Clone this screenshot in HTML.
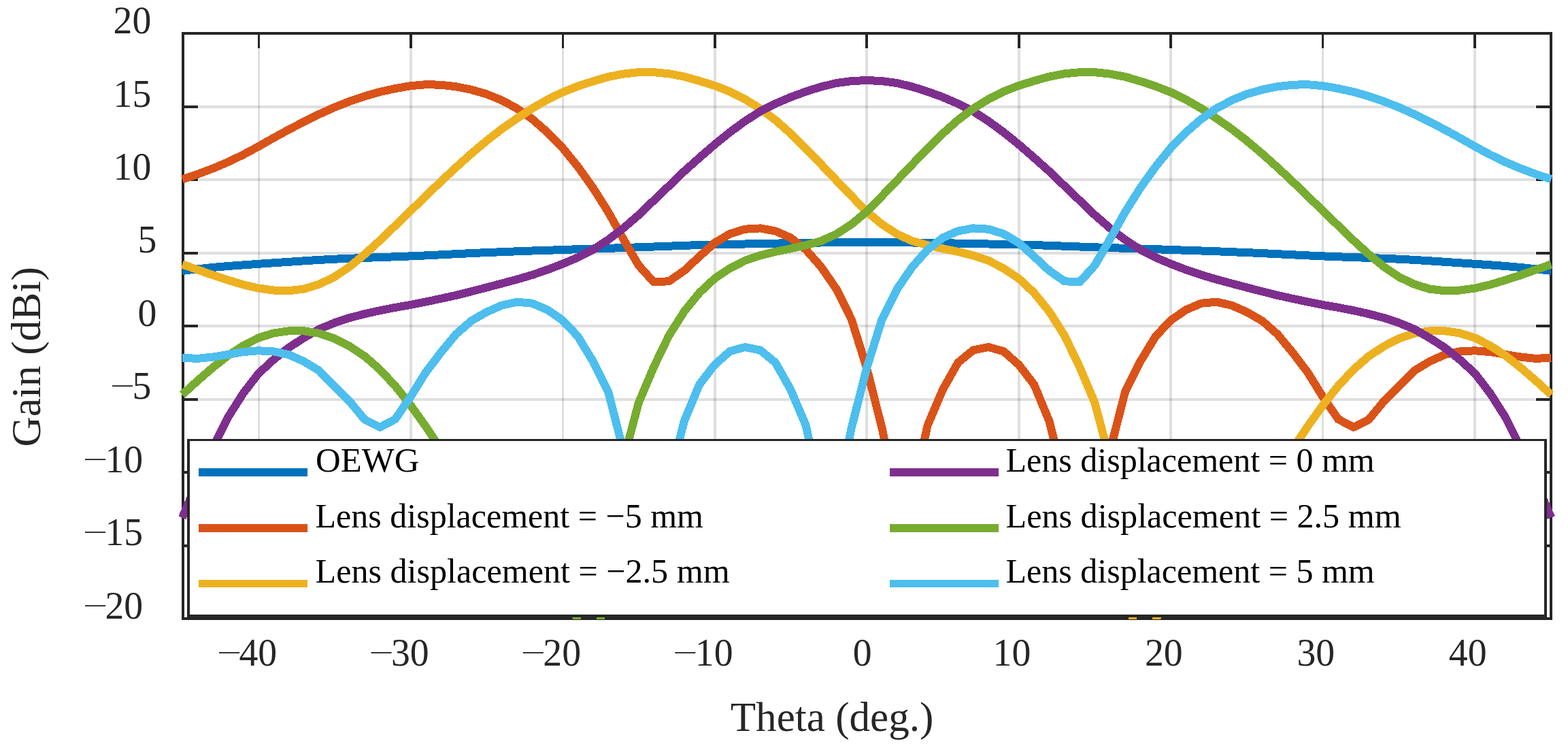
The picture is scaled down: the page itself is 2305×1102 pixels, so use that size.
<!DOCTYPE html>
<html lang="en"><head><meta charset="utf-8"><title>Gain vs Theta</title>
<style>html,body{margin:0;padding:0;background:#fff;}body{width:2305px;height:1102px;overflow:hidden;}svg{display:block;}text{font-family:"Liberation Serif","Times New Roman",serif;font-kerning:none;white-space:pre;}</style>
</head><body>
<svg width="2305" height="1102" viewBox="0 0 2305 1102">
<rect x="0" y="0" width="2305" height="1102" fill="#fff"/>
<g fill="#262626" fill-opacity="0.15" shape-rendering="crispEdges">
<rect x="379" y="72" width="3" height="814"/>
<rect x="602" y="72" width="4" height="814"/>
<rect x="826" y="72" width="3" height="814"/>
<rect x="1049" y="72" width="4" height="814"/>
<rect x="1272" y="72" width="4" height="814"/>
<rect x="1496" y="72" width="4" height="814"/>
<rect x="1719" y="72" width="4" height="814"/>
<rect x="1943" y="72" width="3" height="814"/>
<rect x="2166" y="72" width="4" height="814"/>
<rect x="292" y="800" width="1965" height="4"/>
<rect x="292" y="692" width="1965" height="4"/>
<rect x="292" y="585" width="1965" height="4"/>
<rect x="292" y="477" width="1965" height="4"/>
<rect x="292" y="370" width="1965" height="4"/>
<rect x="292" y="262" width="1965" height="4"/>
<rect x="292" y="155" width="1965" height="4"/>
</g>
<g fill="#262626" shape-rendering="crispEdges">
<rect x="379" y="50" width="3" height="21"/>
<rect x="379" y="887" width="3" height="21"/>
<rect x="602" y="50" width="4" height="21"/>
<rect x="602" y="887" width="4" height="21"/>
<rect x="826" y="50" width="3" height="21"/>
<rect x="826" y="887" width="3" height="21"/>
<rect x="1049" y="50" width="4" height="21"/>
<rect x="1049" y="887" width="4" height="21"/>
<rect x="1272" y="50" width="4" height="21"/>
<rect x="1272" y="887" width="4" height="21"/>
<rect x="1496" y="50" width="4" height="21"/>
<rect x="1496" y="887" width="4" height="21"/>
<rect x="1719" y="50" width="4" height="21"/>
<rect x="1719" y="887" width="4" height="21"/>
<rect x="1943" y="50" width="3" height="21"/>
<rect x="1943" y="887" width="3" height="21"/>
<rect x="2166" y="50" width="4" height="21"/>
<rect x="2166" y="887" width="4" height="21"/>
<rect x="270" y="800" width="21" height="4"/>
<rect x="2258" y="800" width="21" height="4"/>
<rect x="270" y="692" width="21" height="4"/>
<rect x="2258" y="692" width="21" height="4"/>
<rect x="270" y="585" width="21" height="4"/>
<rect x="2258" y="585" width="21" height="4"/>
<rect x="270" y="477" width="21" height="4"/>
<rect x="2258" y="477" width="21" height="4"/>
<rect x="270" y="370" width="21" height="4"/>
<rect x="2258" y="370" width="21" height="4"/>
<rect x="270" y="262" width="21" height="4"/>
<rect x="2258" y="262" width="21" height="4"/>
<rect x="270" y="155" width="21" height="4"/>
<rect x="2258" y="155" width="21" height="4"/>
</g>
<rect x="269" y="49" width="2011" height="860" fill="none" stroke="#262626" stroke-width="4"/>
<defs><clipPath id="c"><rect x="255" y="30" width="2040" height="880"/></clipPath></defs>
<g clip-path="url(#c)" fill="none" stroke-width="12.0" stroke-linejoin="round" stroke-linecap="butt" shape-rendering="crispEdges">
<polyline stroke="#0072bd" points="267.9,397.9 290.3,395.3 312.6,393.0 335.0,391.0 357.3,389.4 379.7,387.8 402.1,386.3 424.4,384.8 446.8,383.3 469.1,381.9 491.5,380.7 513.9,379.8 536.2,378.9 558.6,378.1 580.9,377.3 603.3,376.4 625.7,375.4 648.0,374.3 670.4,373.2 692.7,372.1 715.1,371.1 737.5,370.2 759.8,369.3 782.2,368.5 804.5,367.8 826.9,367.0 849.3,366.2 871.6,365.5 894.0,364.8 916.3,364.1 938.7,363.3 961.1,362.5 983.4,361.7 1005.8,360.8 1028.1,360.1 1050.5,359.5 1072.9,359.0 1095.2,358.5 1117.6,358.0 1139.9,357.6 1162.3,357.2 1184.7,356.8 1207.0,356.5 1229.4,356.3 1251.7,356.1 1274.1,356.0 1296.5,356.1 1318.8,356.3 1341.2,356.5 1363.5,356.8 1385.9,357.2 1408.3,357.6 1430.6,358.0 1453.0,358.5 1475.3,359.0 1497.7,359.5 1520.1,360.1 1542.4,360.8 1564.8,361.7 1587.1,362.5 1609.5,363.3 1631.9,364.1 1654.2,364.8 1676.6,365.5 1698.9,366.2 1721.3,367.0 1743.7,367.8 1766.0,368.5 1788.4,369.3 1810.7,370.2 1833.1,371.1 1855.5,372.1 1877.8,373.2 1900.2,374.3 1922.5,375.4 1944.9,376.4 1967.3,377.3 1989.6,378.1 2012.0,378.9 2034.3,379.8 2056.7,380.7 2079.1,381.9 2101.4,383.3 2123.8,384.8 2146.1,386.3 2168.5,387.8 2190.9,389.4 2213.2,391.0 2235.6,393.0 2257.9,395.3 2280.3,397.9"/>
<polyline stroke="#d95319" points="267.9,263.4 290.3,256.0 312.6,247.7 335.0,238.2 357.3,227.5 379.7,215.4 402.1,202.7 424.4,190.5 446.8,178.9 469.1,167.9 491.5,157.8 513.9,149.0 536.2,141.4 558.6,135.0 580.9,130.1 603.3,126.2 625.7,124.2 648.0,124.7 670.4,127.3 692.7,131.8 715.1,138.2 737.5,147.3 759.8,159.3 782.2,174.8 804.5,194.3 826.9,217.1 849.3,244.7 871.6,275.8 894.0,311.3 916.3,351.1 938.7,389.8 961.1,414.5 983.4,413.2 1005.8,397.7 1028.1,376.9 1050.5,356.9 1072.9,343.6 1095.2,336.7 1117.6,335.4 1139.9,339.5 1162.3,349.4 1184.7,366.8 1207.0,392.1 1229.4,424.6 1251.7,469.3 1274.1,540.7 1296.5,628.9 1318.8,737.0 1341.2,728.4 1363.5,625.2 1385.9,572.5 1408.3,532.8 1430.6,514.5 1453.0,510.0 1475.3,516.2 1497.7,536.0 1520.1,565.0 1542.4,618.8 1564.8,706.9 1587.1,780.0 1609.5,747.8 1631.9,661.8 1654.2,575.1 1676.6,530.6 1698.9,494.1 1721.3,470.4 1743.7,455.1 1766.0,445.7 1788.4,443.7 1810.7,448.7 1833.1,458.6 1855.5,471.5 1877.8,491.0 1900.2,518.1 1922.5,547.4 1944.9,583.5 1967.3,616.0 1989.6,627.8 2012.0,616.6 2034.3,589.7 2056.7,567.1 2079.1,544.6 2101.4,531.2 2123.8,521.1 2146.1,516.4 2168.5,515.3 2190.9,517.1 2213.2,520.9 2235.6,524.6 2257.9,526.9 2280.3,525.7"/>
<polyline stroke="#edb120" points="267.9,388.5 290.3,396.2 312.6,404.2 335.0,411.5 357.3,418.2 379.7,423.5 402.1,426.5 424.4,427.2 446.8,424.6 469.1,417.7 491.5,407.0 513.9,391.9 536.2,373.6 558.6,353.2 580.9,331.7 603.3,310.0 625.7,288.3 648.0,266.8 670.4,245.9 692.7,225.9 715.1,207.0 737.5,189.6 759.8,174.1 782.2,159.3 804.5,146.6 826.9,135.6 849.3,126.8 871.6,119.5 894.0,112.9 916.3,108.6 938.7,106.2 961.1,106.2 983.4,108.3 1005.8,112.6 1028.1,118.9 1050.5,125.8 1072.9,134.6 1095.2,145.8 1117.6,159.7 1139.9,176.3 1162.3,196.3 1184.7,218.4 1207.0,241.4 1229.4,264.9 1251.7,288.1 1274.1,310.9 1296.5,329.6 1318.8,344.0 1341.2,354.1 1363.5,360.3 1385.9,365.3 1408.3,369.8 1430.6,375.4 1453.0,382.9 1475.3,394.3 1497.7,409.3 1520.1,430.2 1542.4,457.7 1564.8,493.0 1587.1,539.2 1609.5,592.1 1631.9,676.8 1654.2,780.0 1676.6,1038.0 1698.9,915.5 1721.3,812.2 1743.7,769.2 1766.0,743.5 1788.4,724.1 1810.7,709.0 1833.1,696.1 1855.5,685.4 1877.8,673.6 1900.2,659.6 1922.5,626.3 1944.9,595.1 1967.3,567.1 1989.6,543.1 2012.0,523.5 2034.3,508.9 2056.7,497.3 2079.1,489.8 2101.4,486.3 2123.8,486.3 2146.1,489.5 2168.5,496.6 2190.9,508.0 2213.2,522.6 2235.6,540.3 2257.9,559.6 2280.3,580.0"/>
<polyline stroke="#7e2f8e" points="267.9,760.6 290.3,708.4 312.6,658.1 335.0,613.4 357.3,578.3 379.7,549.1 402.1,528.5 424.4,510.8 446.8,496.4 469.1,483.7 491.5,474.5 513.9,467.0 536.2,461.2 558.6,456.2 580.9,451.9 603.3,448.0 625.7,443.5 648.0,438.8 670.4,433.9 692.7,428.3 715.1,422.5 737.5,416.6 759.8,410.6 782.2,404.0 804.5,396.4 826.9,387.8 849.3,378.4 871.6,367.0 894.0,352.4 916.3,335.4 938.7,316.0 961.1,294.5 983.4,273.2 1005.8,251.7 1028.1,231.8 1050.5,212.4 1072.9,194.3 1095.2,178.0 1117.6,163.6 1139.9,152.4 1162.3,142.7 1184.7,134.6 1207.0,127.5 1229.4,122.1 1251.7,119.1 1274.1,118.0 1296.5,119.1 1318.8,122.1 1341.2,127.5 1363.5,134.6 1385.9,142.7 1408.3,152.4 1430.6,163.6 1453.0,178.0 1475.3,194.3 1497.7,212.4 1520.1,231.8 1542.4,251.7 1564.8,273.2 1587.1,294.5 1609.5,316.0 1631.9,335.4 1654.2,352.4 1676.6,367.0 1698.9,378.4 1721.3,387.8 1743.7,396.4 1766.0,404.0 1788.4,410.6 1810.7,416.6 1833.1,422.5 1855.5,428.3 1877.8,433.9 1900.2,438.8 1922.5,443.5 1944.9,448.0 1967.3,451.9 1989.6,456.2 2012.0,461.2 2034.3,467.0 2056.7,474.5 2079.1,483.7 2101.4,496.4 2123.8,510.8 2146.1,528.5 2168.5,549.1 2190.9,578.3 2213.2,613.4 2235.6,658.1 2257.9,708.4 2280.3,760.6"/>
<polyline stroke="#77ac30" points="267.9,580.0 290.3,559.6 312.6,540.3 335.0,522.6 357.3,508.0 379.7,496.6 402.1,489.5 424.4,486.3 446.8,486.3 469.1,489.8 491.5,497.3 513.9,508.9 536.2,523.5 558.6,543.1 580.9,567.1 603.3,595.1 625.7,626.3 648.0,659.6 670.4,673.6 692.7,685.4 715.1,696.1 737.5,709.0 759.8,724.1 782.2,743.5 804.5,769.2 826.9,812.2 849.3,915.5 871.6,1038.0 894.0,780.0 916.3,676.8 938.7,592.1 961.1,539.2 983.4,493.0 1005.8,457.7 1028.1,430.2 1050.5,409.3 1072.9,394.3 1095.2,382.9 1117.6,375.4 1139.9,369.8 1162.3,365.3 1184.7,360.3 1207.0,354.1 1229.4,344.0 1251.7,329.6 1274.1,310.9 1296.5,288.1 1318.8,264.9 1341.2,241.4 1363.5,218.4 1385.9,196.3 1408.3,176.3 1430.6,159.7 1453.0,145.8 1475.3,134.6 1497.7,125.8 1520.1,118.9 1542.4,112.6 1564.8,108.3 1587.1,106.2 1609.5,106.2 1631.9,108.6 1654.2,112.9 1676.6,119.5 1698.9,126.8 1721.3,135.6 1743.7,146.6 1766.0,159.3 1788.4,174.1 1810.7,189.6 1833.1,207.0 1855.5,225.9 1877.8,245.9 1900.2,266.8 1922.5,288.3 1944.9,310.0 1967.3,331.7 1989.6,353.2 2012.0,373.6 2034.3,391.9 2056.7,407.0 2079.1,417.7 2101.4,424.6 2123.8,427.2 2146.1,426.5 2168.5,423.5 2190.9,418.2 2213.2,411.5 2235.6,404.2 2257.9,396.2 2280.3,388.5"/>
<polyline stroke="#4dbeee" points="267.9,525.7 290.3,526.9 312.6,524.6 335.0,520.9 357.3,517.1 379.7,515.3 402.1,516.4 424.4,521.1 446.8,531.2 469.1,544.6 491.5,567.1 513.9,589.7 536.2,616.6 558.6,627.8 580.9,616.0 603.3,583.5 625.7,547.4 648.0,518.1 670.4,491.0 692.7,471.5 715.1,458.6 737.5,448.7 759.8,443.7 782.2,445.7 804.5,455.1 826.9,470.4 849.3,494.1 871.6,530.6 894.0,575.1 916.3,661.8 938.7,747.8 961.1,780.0 983.4,706.9 1005.8,618.8 1028.1,565.0 1050.5,536.0 1072.9,516.2 1095.2,510.0 1117.6,514.5 1139.9,532.8 1162.3,572.5 1184.7,625.2 1207.0,728.4 1229.4,737.0 1251.7,628.9 1274.1,540.7 1296.5,469.3 1318.8,424.6 1341.2,392.1 1363.5,366.8 1385.9,349.4 1408.3,339.5 1430.6,335.4 1453.0,336.7 1475.3,343.6 1497.7,356.9 1520.1,376.9 1542.4,397.7 1564.8,413.2 1587.1,414.5 1609.5,389.8 1631.9,351.1 1654.2,311.3 1676.6,275.8 1698.9,244.7 1721.3,217.1 1743.7,194.3 1766.0,174.8 1788.4,159.3 1810.7,147.3 1833.1,138.2 1855.5,131.8 1877.8,127.3 1900.2,124.7 1922.5,124.2 1944.9,126.2 1967.3,130.1 1989.6,135.0 2012.0,141.4 2034.3,149.0 2056.7,157.8 2079.1,167.9 2101.4,178.9 2123.8,190.5 2146.1,202.7 2168.5,215.4 2190.9,227.5 2213.2,238.2 2235.6,247.7 2257.9,256.0 2280.3,263.4"/>
</g>
<rect x="275" y="645" width="1999" height="262" fill="#262626"/>
<rect x="279" y="648" width="1991" height="255" fill="#fff"/>
<rect x="292" y="688.0" width="160" height="12" fill="#0072bd" shape-rendering="crispEdges"/>
<text transform="translate(464.12,693.30) scale(1.0094,1)" font-size="50.30" fill="#000">OEWG</text>
<rect x="292" y="770.0" width="160" height="12" fill="#d95319" shape-rendering="crispEdges"/>
<text transform="translate(463.56,775.30) scale(0.9947,1)" font-size="50.30" fill="#000">Lens displacement = −5 mm</text>
<rect x="292" y="852.0" width="160" height="11" fill="#edb120" shape-rendering="crispEdges"/>
<text transform="translate(463.56,856.00) scale(0.9966,1)" font-size="50.30" fill="#000">Lens displacement = −2.5 mm</text>
<rect x="1308" y="688.0" width="160" height="12" fill="#7e2f8e" shape-rendering="crispEdges"/>
<text transform="translate(1478.56,693.30) scale(0.9947,1)" font-size="50.30" fill="#000">Lens displacement = 0 mm</text>
<rect x="1308" y="770.0" width="160" height="12" fill="#77ac30" shape-rendering="crispEdges"/>
<text transform="translate(1478.56,775.30) scale(0.9969,1)" font-size="50.30" fill="#000">Lens displacement = 2.5 mm</text>
<rect x="1308" y="852.0" width="160" height="11" fill="#4dbeee" shape-rendering="crispEdges"/>
<text transform="translate(1478.56,856.00) scale(0.9947,1)" font-size="50.30" fill="#000">Lens displacement = 5 mm</text>
<text transform="translate(166.60,48.75) scale(0.9870,1)" font-size="56.50" fill="#262626">20</text>
<text transform="translate(166.60,156.60) scale(0.9870,1)" font-size="56.50" fill="#262626">15</text>
<text transform="translate(166.60,264.00) scale(0.9870,1)" font-size="56.50" fill="#262626">10</text>
<text transform="translate(202.40,371.40) scale(0.9870,1)" font-size="56.50" fill="#262626">5</text>
<text transform="translate(202.40,478.80) scale(0.9870,1)" font-size="56.50" fill="#262626">0</text>
<text transform="translate(161.78,580.07) scale(1.1449,0.6753)" font-size="56.50" fill="#262626">−</text>
<text transform="translate(194.50,586.30) scale(0.9870,1)" font-size="56.50" fill="#262626">5</text>
<text transform="translate(121.68,687.57) scale(1.1449,0.6753)" font-size="56.50" fill="#262626">−</text>
<text transform="translate(154.40,693.80) scale(0.9870,1)" font-size="56.50" fill="#262626">10</text>
<text transform="translate(121.68,795.07) scale(1.1449,0.6753)" font-size="56.50" fill="#262626">−</text>
<text transform="translate(154.40,801.30) scale(0.9870,1)" font-size="56.50" fill="#262626">15</text>
<text transform="translate(121.68,902.52) scale(1.1449,0.6753)" font-size="56.50" fill="#262626">−</text>
<text transform="translate(154.40,908.75) scale(0.9870,1)" font-size="56.50" fill="#262626">20</text>
<text transform="translate(318.72,971.77) scale(1.1449,0.6753)" font-size="56.50" fill="#262626">−</text>
<text transform="translate(351.44,978.00) scale(0.9870,1)" font-size="56.50" fill="#262626">40</text>
<text transform="translate(542.16,971.77) scale(1.1449,0.6753)" font-size="56.50" fill="#262626">−</text>
<text transform="translate(574.88,978.00) scale(0.9870,1)" font-size="56.50" fill="#262626">30</text>
<text transform="translate(765.60,971.77) scale(1.1449,0.6753)" font-size="56.50" fill="#262626">−</text>
<text transform="translate(798.32,978.00) scale(0.9870,1)" font-size="56.50" fill="#262626">20</text>
<text transform="translate(989.04,971.77) scale(1.1449,0.6753)" font-size="56.50" fill="#262626">−</text>
<text transform="translate(1021.76,978.00) scale(0.9870,1)" font-size="56.50" fill="#262626">10</text>
<text transform="translate(1253.75,978.00) scale(0.9870,1)" font-size="56.50" fill="#262626">0</text>
<text transform="translate(1459.54,978.00) scale(0.9870,1)" font-size="56.50" fill="#262626">10</text>
<text transform="translate(1682.98,978.00) scale(0.9870,1)" font-size="56.50" fill="#262626">20</text>
<text transform="translate(1906.42,978.00) scale(0.9870,1)" font-size="56.50" fill="#262626">30</text>
<text transform="translate(2129.86,978.00) scale(0.9870,1)" font-size="56.50" fill="#262626">40</text>
<text transform="translate(1073.80,1074.30) scale(0.9904,1)" font-size="61.70" fill="#262626">Theta (deg.)</text>
<text transform="translate(59.40,656.62) rotate(-90) scale(0.9959,1)" font-size="61.70" fill="#262626">Gain (dBi)</text>
</svg>
</body></html>
